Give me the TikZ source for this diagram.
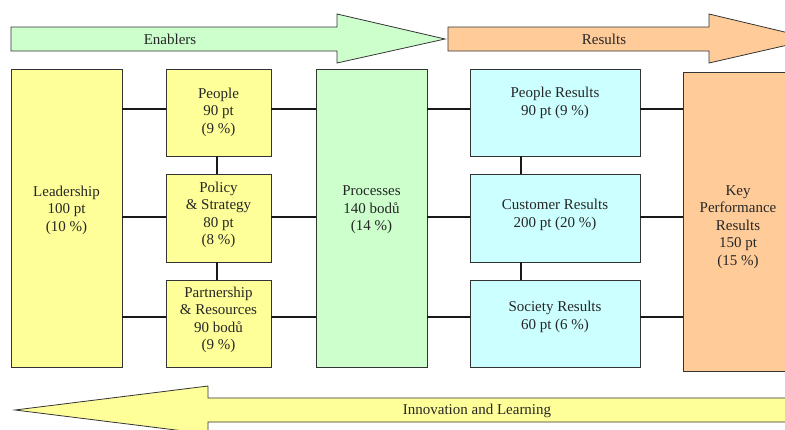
\documentclass[tikz,border=0pt]{standalone}
\usepackage{fontspec}
\setmainfont{Liberation Serif}
\definecolor{yel}{HTML}{FFFF99}
\definecolor{grn}{HTML}{CCFFCC}
\definecolor{cyn}{HTML}{CCFFFF}
\definecolor{org}{HTML}{FFCC99}
\definecolor{edge}{HTML}{333333}
\begin{document}
\begin{tikzpicture}[x=1pt,y=-1pt,
  box/.style={draw=edge,line width=0.8pt,inner sep=0pt,outer sep=0pt,rectangle},
  txt/.style={align=center,inner sep=0pt,font=\fontsize{15}{17.5}\selectfont,text=black!85},
  conn/.style={line width=2pt,black!90},
  bigarrow/.style={draw=edge,line width=0.8pt}]
\useasboundingbox (0,0) rectangle (785,429);
\clip (0,0) rectangle (785,429);
% top arrows
\draw[bigarrow,fill=grn] (11,27)--(337,27)--(337,14)--(445,39)--(337,63)--(337,51)--(11,51)--cycle;
\node[txt] (enab) at (170,39) {Enablers};
\draw[bigarrow,fill=org] (448,27)--(709,27)--(709,14)--(814,39)--(709,63)--(709,51)--(448,51)--cycle;
\node[txt] (res) at (604,39) {Results};
% bottom arrow
\draw[bigarrow,fill=yel] (800,398)--(208,398)--(208,386)--(15,410)--(208,434)--(208,422)--(800,422);
\node[txt] (innov) at (477,411) {Innovation and Learning};
% boxes
\node[box,fill=yel,minimum width=111pt,minimum height=298pt] (lead) at (66.5,218) {};
\node[box,fill=yel,minimum width=105pt,minimum height=87pt] (peop) at (218.5,112.5) {};
\node[box,fill=yel,minimum width=105pt,minimum height=88pt] (poli) at (218.5,218) {};
\node[box,fill=yel,minimum width=105pt,minimum height=87pt] (part) at (218.5,323.5) {};
\node[box,fill=grn,minimum width=111pt,minimum height=298pt] (proc) at (371.5,218) {};
\node[box,fill=cyn,minimum width=170pt,minimum height=87pt] (pres) at (555,112.5) {};
\node[box,fill=cyn,minimum width=170pt,minimum height=88pt] (cres) at (555,218) {};
\node[box,fill=cyn,minimum width=170pt,minimum height=87pt] (sres) at (555,323.5) {};
\node[box,fill=org,minimum width=117pt,minimum height=299pt] (key) at (741.5,221.5) {};
% texts
\node[txt] (tlead) at (66.5,210) {Leadership\\100 pt\\(10 \%)};
\node[txt] (tpeop) at (218.5,112) {People\\90 pt\\(9 \%)};
\node[txt] (tpoli) at (218.5,215) {Policy\\\&~Strategy\\80 pt\\(8 \%)};
\node[txt] (tpart) at (218.5,320) {Partnership\\\&~Resources\\90 bodů\\(9 \%)};
\node[txt] (tproc) at (371.5,210) {Processes\\140 bodů\\(14 \%)};
\node[txt] (tpres) at (555,103) {People Results\\90 pt (9 \%)};
\node[txt] (tcres) at (555,215) {Customer Results\\200 pt (20 \%)};
\node[txt] (tsres) at (555,317) {Society Results\\60 pt (6 \%)};
\node[txt] (tkey) at (738,227) {Key\\Performance\\Results\\150 pt\\(15 \%)};
% connector rows
\coordinate (r1) at (0,109);
\coordinate (r2) at (0,217);
\coordinate (r3) at (0,317);
\coordinate (cl) at (217,0);
\coordinate (cr) at (521,0);
\draw[conn] (lead.east |- r1) -- (peop.west |- r1);
\draw[conn] (lead.east |- r2) -- (poli.west |- r2);
\draw[conn] (lead.east |- r3) -- (part.west |- r3);
\draw[conn] (peop.east |- r1) -- (proc.west |- r1);
\draw[conn] (poli.east |- r2) -- (proc.west |- r2);
\draw[conn] (part.east |- r3) -- (proc.west |- r3);
\draw[conn] (proc.east |- r1) -- (pres.west |- r1);
\draw[conn] (proc.east |- r2) -- (cres.west |- r2);
\draw[conn] (proc.east |- r3) -- (sres.west |- r3);
\draw[conn] (pres.east |- r1) -- (key.west |- r1);
\draw[conn] (cres.east |- r2) -- (key.west |- r2);
\draw[conn] (sres.east |- r3) -- (key.west |- r3);
\draw[conn] (peop.south -| cl) -- (poli.north -| cl);
\draw[conn] (poli.south -| cl) -- (part.north -| cl);
\draw[conn] (pres.south -| cr) -- (cres.north -| cr);
\draw[conn] (cres.south -| cr) -- (sres.north -| cr);
\end{tikzpicture}
\end{document}
